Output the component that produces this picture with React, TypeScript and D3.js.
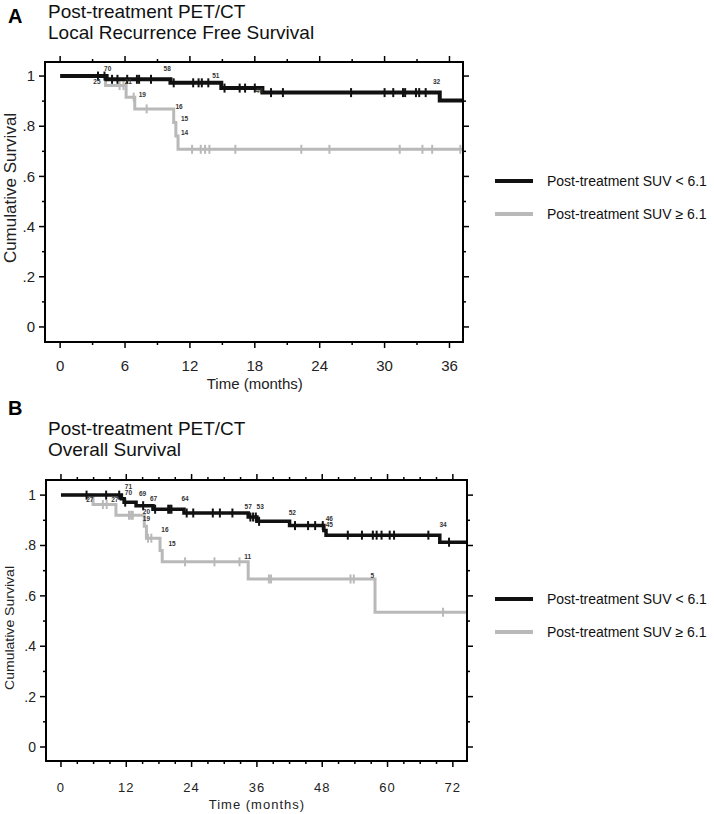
import React from "react";
import * as d3 from "d3";

// ---------------- DATA ----------------
const groupNames = ["Post-treatment SUV < 6.1", "Post-treatment SUV \u2265 6.1"];
const yTickValues = [0, 0.2, 0.4, 0.6, 0.8, 1];
const yTickLabels = ["0", ".2", ".4", ".6", ".8", "1"];
const yMinorValues = [0.1, 0.3, 0.5, 0.7, 0.9];

// Panel A: Local Recurrence Free Survival
const aXTicks = [0, 6, 12, 18, 24, 30, 36];
const aXMinor = [3, 9, 15, 21, 27, 33];
const aLowStepTimes = [4.3, 10.2, 14.9, 18.7, 35.1];
const aLowStepValues = [0.987, 0.973, 0.952, 0.934, 0.903];
const aLowCensor = [3.5, 4.1, 4.8, 5.3, 6.2, 7.1, 7.3, 8.4, 10.5, 12.3, 12.8, 13.1, 13.7, 15.2, 16.6, 17.1, 18.0, 19.5, 20.6, 26.9, 30.0, 30.8, 31.7, 31.9, 32.9, 33.2, 33.8];
const aHighStepTimes = [4.2, 6.1, 6.9, 10.5, 10.7, 10.9];
const aHighStepValues = [0.962, 0.916, 0.869, 0.815, 0.761, 0.708];
const aHighCensor = [5.5, 5.85, 6.8, 8.0, 12.2, 13.0, 13.4, 13.8, 16.2, 22.3, 24.9, 31.4, 33.5, 34.4, 37.0];
const aLowLabelTimes = [4.4, 9.9, 14.4, 18.4, 34.8];
const aLowLabelValues = [1.028, 1.028, 1.0, 0.94, 0.976];
const aLowLabelTexts = ["70", "58", "51", "46", "32"];
const aHighLabelTimes = [3.4, 6.3, 7.6, 11.0, 11.5, 11.5];
const aHighLabelValues = [0.976, 0.976, 0.924, 0.876, 0.829, 0.773];
const aHighLabelTexts = ["25", "21", "19", "16", "15", "14"];

// Panel B: Overall Survival
const bXTicks = [0, 12, 24, 36, 48, 60, 72];
const bXMinor = [3, 6, 9, 15, 18, 21, 27, 30, 33, 39, 42, 45, 51, 54, 57, 63, 66, 69];
const bLowStepTimes = [11.1, 11.6, 13.8, 16.9, 22.6, 34.4, 36.0, 42.0, 48.3, 48.7, 69.6];
const bLowStepValues = [0.986, 0.972, 0.958, 0.944, 0.929, 0.913, 0.896, 0.879, 0.86, 0.841, 0.813];
const bLowCensor = [4.7, 8.3, 10.7, 11.8, 15.1, 17.3, 19.7, 20.0, 20.3, 23.1, 24.3, 27.9, 29.2, 31.5, 34.8, 35.3, 35.8, 36.4, 43.0, 45.4, 46.7, 48.1, 52.7, 55.3, 57.3, 58.0, 58.9, 60.4, 61.2, 67.5, 71.3];
const bHighStepTimes = [5.9, 10.1, 15.3, 15.7, 18.2, 18.6, 34.4, 57.7];
const bHighStepValues = [0.963, 0.92, 0.876, 0.829, 0.78, 0.735, 0.667, 0.535];
const bHighCensor = [7.7, 8.4, 12.5, 12.9, 13.2, 16.0, 16.6, 22.8, 28.2, 32.8, 38.2, 38.6, 53.2, 53.8, 70.2];
const bLowLabelTimes = [12.4, 12.4, 15.0, 17.0, 22.8, 34.4, 36.6, 42.5, 49.3, 49.3, 70.2];
const bLowLabelValues = [1.033, 1.009, 1.007, 0.984, 0.984, 0.954, 0.954, 0.93, 0.905, 0.881, 0.881];
const bLowLabelTexts = ["71", "70", "69", "67", "64", "57", "53", "52", "46", "45", "34"];
const bHighLabelTimes = [5.3, 9.9, 15.7, 15.7, 19.1, 20.4, 34.3, 57.2];
const bHighLabelValues = [0.98, 0.98, 0.934, 0.905, 0.861, 0.806, 0.755, 0.679];
const bHighLabelTexts = ["27", "27", "20", "19", "16", "15", "11", "5"];

// ---------------- STYLE ----------------
const FONT = '"Liberation Sans", Arial, Helvetica, sans-serif';
const BLACK = "#111";
const GRAY = "#b9b9b9";

type Cfg = {
  id: string;
  letter: string;
  titles: string[];
  letterY: number;
  titleY: number[];
  left: number; right: number; top: number; bottom: number;
  xDomain: [number, number];
  yDomain: [number, number];
  xTicks: number[]; xMinor: number[];
  xTickFont: number; xTickY: number; xLabelY: number; xLetterSpacing: number;
  yTickFont: number;
  yLabelFont: number; yLabelY: number; yLabelX: number; yLabelLen?: number;
  legendY: number[];
  tEnd: number;
  low: { times: number[]; values: number[]; censor: number[]; lt: number[]; lv: number[]; ls: string[] };
  high: { times: number[]; values: number[]; censor: number[]; lt: number[]; lv: number[]; ls: string[] };
  lowWidth: number; highWidth: number;
};

function survAt(times: number[], values: number[], t: number) {
  let v = 1;
  for (let i = 0; i < times.length; i++) if (times[i] <= t) v = values[i];
  return v;
}

function Panel({ c }: { c: Cfg }) {
  const x = d3.scaleLinear().domain(c.xDomain).range([c.left, c.right]);
  const y = d3.scaleLinear().domain(c.yDomain).range([c.bottom, c.top]);
  const line = d3
    .line<[number, number]>()
    .x((d) => x(d[0]))
    .y((d) => y(d[1]))
    .curve(d3.curveStepAfter);
  const pts = (times: number[], values: number[]): [number, number][] => {
    const p: [number, number][] = [[0, 1]];
    times.forEach((t, i) => p.push([t, values[i]]));
    p.push([c.tEnd, values[values.length - 1]]);
    return p;
  };
  const groups = [
    { g: c.high, color: GRAY, w: c.highWidth },
    { g: c.low, color: BLACK, w: c.lowWidth },
  ];
  const major = 6, minor = 3;
  return (
    <g>
      <defs>
        <clipPath id={`clip-${c.id}`}>
          <rect x={c.left} y={c.top} width={c.right - c.left} height={c.bottom - c.top} />
        </clipPath>
      </defs>
      <text x={8} y={c.letterY} fontFamily={FONT} fontWeight="bold" fontSize={20} fill="#000">{c.letter}</text>
      {c.titles.map((t, i) => (
        <text key={t} x={48} y={c.titleY[i]} fontFamily={FONT} fontSize={19} fill="#111">{t}</text>
      ))}
      {/* ticks */}
      <g stroke="#000" strokeWidth={1.5}>
        {c.xTicks.map((t) => (
          <g key={"xt" + t}>
            <line x1={x(t)} x2={x(t)} y1={c.bottom} y2={c.bottom + major} />
            <line x1={x(t)} x2={x(t)} y1={c.top} y2={c.top - major} />
          </g>
        ))}
        {c.xMinor.map((t) => (
          <g key={"xm" + t}>
            <line x1={x(t)} x2={x(t)} y1={c.bottom} y2={c.bottom + minor} />
            <line x1={x(t)} x2={x(t)} y1={c.top} y2={c.top - minor} />
          </g>
        ))}
        {yTickValues.map((v) => (
          <g key={"yt" + v}>
            <line x1={c.left} x2={c.left - major} y1={y(v)} y2={y(v)} />
            <line x1={c.right} x2={c.right + major} y1={y(v)} y2={y(v)} />
          </g>
        ))}
        {yMinorValues.map((v) => (
          <g key={"ym" + v}>
            <line x1={c.left} x2={c.left - minor} y1={y(v)} y2={y(v)} />
            <line x1={c.right} x2={c.right + minor} y1={y(v)} y2={y(v)} />
          </g>
        ))}
      </g>
      {c.xTicks.map((t) => (
        <text key={"xl" + t} x={x(t)} y={c.xTickY} textAnchor="middle" fontFamily={FONT} fontSize={c.xTickFont}
          letterSpacing={c.xLetterSpacing} fill="#222">{t}</text>
      ))}
      {yTickValues.map((v, i) => (
        <text key={"yl" + v} x={c.left - 10} y={y(v)} dy="0.35em" textAnchor="end" fontFamily={FONT}
          fontSize={c.yTickFont} fill="#222">{yTickLabels[i]}</text>
      ))}
      <text x={(x(c.xTicks[0]) + x(c.xTicks[c.xTicks.length - 1])) / 2} y={c.xLabelY} textAnchor="middle"
        fontFamily={FONT} fontSize={c.xTickFont} letterSpacing={c.xLetterSpacing} fill="#222">Time (months)</text>
      <text transform={`translate(${c.yLabelX},${c.yLabelY}) rotate(-90)`} textAnchor="middle" fontFamily={FONT}
        fontSize={c.yLabelFont} fill="#222"
        {...(c.yLabelLen ? { textLength: c.yLabelLen, lengthAdjust: "spacingAndGlyphs" } : {})}>Cumulative Survival</text>
      {/* curves */}
      <g clipPath={`url(#clip-${c.id})`}>
        {groups.map(({ g, color, w }, gi) => (
          <g key={"g" + gi}>
            <path d={line(pts(g.times, g.values)) || ""} fill="none" stroke={color} strokeWidth={w} />
            {g.censor.map((t, i) => {
              const v = survAt(g.times, g.values, t);
              return <line key={i} x1={x(t)} x2={x(t)} y1={y(v) - 4.5} y2={y(v) + 4.5} stroke={color} strokeWidth={2} />;
            })}
          </g>
        ))}
      </g>
      {groups.map(({ g }, gi) =>
        g.ls.map((s, i) => (
          <text key={"lab" + gi + i} x={x(g.lt[i])} y={y(g.lv[i])} dy="0.35em" textAnchor="middle" fontFamily={FONT}
            fontSize={6.5} fontWeight="bold" fill="#333">{s}</text>
        ))
      )}
      {/* frame */}
      <rect x={c.left} y={c.top} width={c.right - c.left} height={c.bottom - c.top} fill="none" stroke="#000" strokeWidth={2} />
      {/* legend */}
      {[BLACK, GRAY].map((col, i) => (
        <g key={"leg" + i}>
          <line x1={495} x2={533} y1={c.legendY[i]} y2={c.legendY[i]} stroke={col} strokeWidth={4} />
          <text x={547} y={c.legendY[i]} dy="0.35em" fontFamily={FONT} fontSize={14} fill="#111">{groupNames[i]}</text>
        </g>
      ))}
    </g>
  );
}

const panelA: Cfg = {
  id: "a", letter: "A", titles: ["Post-treatment PET/CT", "Local Recurrence Free Survival"],
  letterY: 23, titleY: [18, 39],
  left: 45, right: 463, top: 62, bottom: 342,
  xDomain: [-1.4, 37.25], yDomain: [-0.06, 1.056],
  xTicks: aXTicks, xMinor: aXMinor,
  xTickFont: 15, xTickY: 371, xLabelY: 389, xLetterSpacing: 0,
  yTickFont: 15, yLabelFont: 17, yLabelY: 188, yLabelX: 16,
  legendY: [181, 214],
  tEnd: 37.25,
  low: { times: aLowStepTimes, values: aLowStepValues, censor: aLowCensor, lt: aLowLabelTimes, lv: aLowLabelValues, ls: aLowLabelTexts },
  high: { times: aHighStepTimes, values: aHighStepValues, censor: aHighCensor, lt: aHighLabelTimes, lv: aHighLabelValues, ls: aHighLabelTexts },
  lowWidth: 4, highWidth: 3,
};

const panelB: Cfg = {
  id: "b", letter: "B", titles: ["Post-treatment PET/CT", "Overall Survival"],
  letterY: 415, titleY: [435, 456],
  left: 46, right: 467, top: 480, bottom: 761,
  xDomain: [-2.75, 74.6], yDomain: [-0.0556, 1.06],
  xTicks: bXTicks, xMinor: bXMinor,
  xTickFont: 13, xTickY: 792, xLabelY: 809, xLetterSpacing: 1,
  yTickFont: 14, yLabelFont: 13, yLabelY: 628, yLabelX: 14, yLabelLen: 124,
  legendY: [599, 632],
  tEnd: 74.6,
  low: { times: bLowStepTimes, values: bLowStepValues, censor: bLowCensor, lt: bLowLabelTimes, lv: bLowLabelValues, ls: bLowLabelTexts },
  high: { times: bHighStepTimes, values: bHighStepValues, censor: bHighCensor, lt: bHighLabelTimes, lv: bHighLabelValues, ls: bHighLabelTexts },
  lowWidth: 3.5, highWidth: 3,
};

export default function App() {
  return (
    <svg width={714} height={814} style={{ position: "absolute", left: 0, top: 0, background: "#fff" }}>
      <rect width={714} height={814} fill="#fff" />
      <Panel c={panelA} />
      <Panel c={panelB} />
    </svg>
  );
}
